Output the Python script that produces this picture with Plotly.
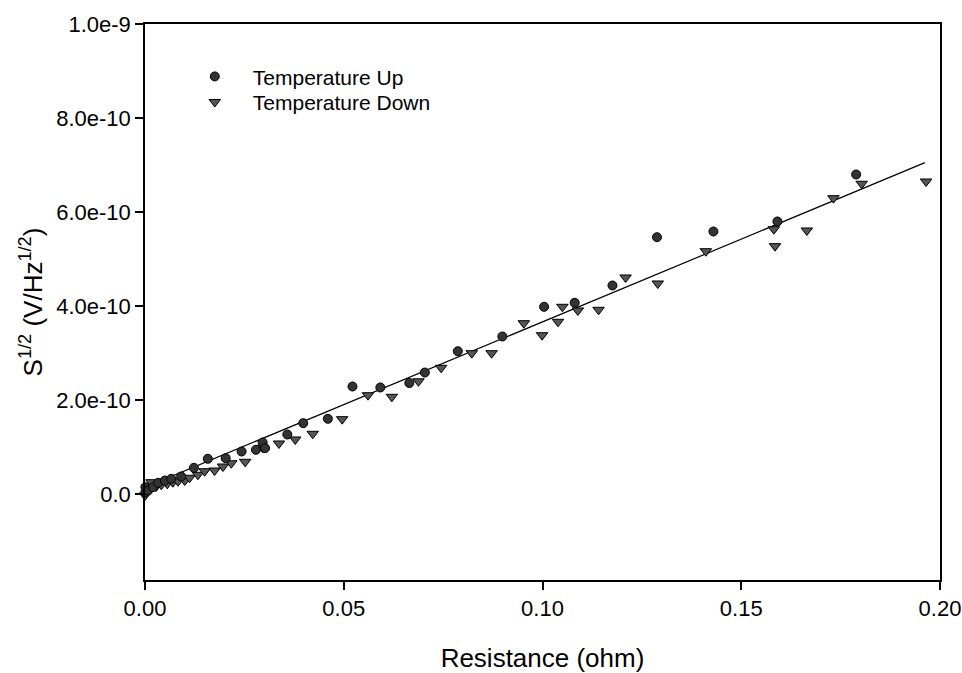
import plotly.graph_objects as go

# ---- data ----
up_x = [0.0001, 0.0001, 0.00075, 0.0020, 0.0033, 0.0050, 0.0066, 0.0091, 0.0123, 0.0158,
        0.0203, 0.0243, 0.0279, 0.0296, 0.0302, 0.0358, 0.0398, 0.0460, 0.0522, 0.0592,
        0.0665, 0.0704, 0.0787, 0.0899, 0.1004, 0.1081, 0.1176, 0.1288, 0.1430, 0.1591,
        0.1789]
up_y = [3.8e-12, 1.45e-11, 7.4e-12, 1.45e-11, 2.38e-11, 2.87e-11, 3.23e-11, 3.72e-11, 5.57e-11, 7.49e-11,
        7.62e-11, 9.04e-11, 9.40e-11, 1.096e-10, 9.75e-11, 1.266e-10, 1.507e-10, 1.60e-10, 2.287e-10, 2.266e-10,
        2.362e-10, 2.585e-10, 3.038e-10, 3.351e-10, 3.983e-10, 4.068e-10, 4.436e-10, 5.464e-10, 5.585e-10, 5.798e-10,
        6.798e-10]

down_x = [0.0000, 0.0012, 0.0016, 0.0028, 0.0041, 0.0056, 0.0070, 0.0083, 0.0100, 0.0112,
          0.0133, 0.0150, 0.0175, 0.0196, 0.0217, 0.0252, 0.0296, 0.0337, 0.0378, 0.0422,
          0.0496, 0.0561, 0.0621, 0.0688, 0.0745, 0.0822, 0.0872, 0.0953, 0.0999, 0.1039,
          0.1050, 0.1089, 0.1141, 0.1209, 0.1290, 0.1411, 0.1582, 0.1585, 0.1665, 0.1732,
          0.1803, 0.1965]
down_y = [-3.0e-12, 8.9e-12, 2.51e-11, 1.60e-11, 1.96e-11, 2.17e-11, 2.51e-11, 2.72e-11, 2.87e-11, 3.45e-11,
          4.09e-11, 4.85e-11, 5.00e-11, 5.85e-11, 6.55e-11, 6.85e-11, 9.83e-11, 1.075e-10, 1.16e-10, 1.281e-10,
          1.592e-10, 2.102e-10, 2.068e-10, 2.398e-10, 2.685e-10, 2.996e-10, 2.996e-10, 3.634e-10, 3.379e-10, 3.664e-10,
          3.983e-10, 3.905e-10, 3.919e-10, 4.607e-10, 4.479e-10, 5.166e-10, 5.634e-10, 5.273e-10, 5.607e-10, 6.294e-10,
          6.601e-10, 6.649e-10]

fit_x = [0.0, 0.1962]
fit_y = [1.4e-11, 7.05e-10]

y_tickvals = [0.0, 2.0e-10, 4.0e-10, 6.0e-10, 8.0e-10, 1.0e-9]
y_ticktext = ["0.0", "2.0e-10", "4.0e-10", "6.0e-10", "8.0e-10", "1.0e-9"]
x_tickvals = [0.0, 0.05, 0.10, 0.15, 0.20]
x_ticktext = ["0.00", "0.05", "0.10", "0.15", "0.20"]

FONT = "Liberation Sans, Arial, sans-serif"

fig = go.Figure()
fig.add_trace(go.Scatter(x=fit_x, y=fit_y, mode="lines",
                         line=dict(color="black", width=1.2),
                         showlegend=False, hoverinfo="skip"))
fig.add_trace(go.Scatter(x=down_x, y=down_y, mode="markers", name="Temperature Down",
                         legend="legend2",
                         marker=dict(symbol="triangle-down", size=10, color="#555555",
                                     line=dict(color="black", width=1)),
                         cliponaxis=False))
fig.add_trace(go.Scatter(x=up_x, y=up_y, mode="markers", name="Temperature Up",
                         legend="legend",
                         marker=dict(symbol="circle", size=9, color="#333333",
                                     line=dict(color="black", width=1)),
                         cliponaxis=False))

leg_common = dict(xanchor="left", yanchor="top", bgcolor="rgba(0,0,0,0)", itemwidth=66,
                  font=dict(family=FONT, size=21, color="black"))

fig.update_layout(
    width=962, height=673,
    margin=dict(l=145, r=22, t=24, b=93),
    paper_bgcolor="white", plot_bgcolor="white",
    font=dict(family=FONT, size=22, color="black"),
    showlegend=True,
    legend=dict(x=0.04, y=0.942, **leg_common),
    legend2=dict(x=0.04, y=0.896, **leg_common),
    xaxis=dict(range=[0, 0.2], tickvals=x_tickvals, ticktext=x_ticktext,
               showgrid=False, zeroline=False, showline=True, linecolor="black", linewidth=1.5,
               mirror=True, ticks="outside", ticklen=8, tickwidth=1.5, tickcolor="black",
               automargin=False, ticklabeloverflow="allow",
               tickfont=dict(family=FONT, size=22),
               title=dict(text="Resistance (ohm)", font=dict(family=FONT, size=26), standoff=30)),
    yaxis=dict(range=[-1.83e-10, 1.0e-9], tickvals=y_tickvals, ticktext=y_ticktext,
               showgrid=False, zeroline=False, showline=True, linecolor="black", linewidth=1.5,
               mirror=True, ticks="outside", ticklen=8, tickwidth=1.5, tickcolor="black",
               automargin=False, ticklabeloverflow="allow",
               tickfont=dict(family=FONT, size=22),
               title=dict(text="S<sup>1/2</sup> (V/Hz<sup>1/2</sup>)",
                          font=dict(family=FONT, size=26), standoff=6)),
)

fig.write_html("out.html")
